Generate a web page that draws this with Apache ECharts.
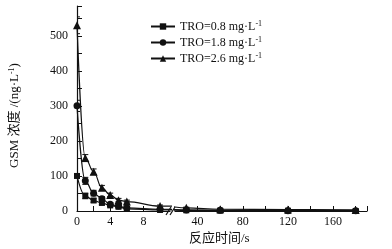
<!DOCTYPE html>
<html>
<head>
<meta charset="utf-8">
<script src="https://cdn.jsdelivr.net/npm/echarts@6/dist/echarts.min.js"></script>
<style>
  html, body { margin: 0; padding: 0; background: #fff; }
  #chart { width: 392px; height: 249px; }
</style>
</head>
<body>
<div id="chart"></div>
<script>
// reaction time (s) and GSM concentration (ng/L)
const times = [0, 1, 2, 3, 4, 5, 6, 10, 30, 60, 120, 180];
const tro08 = [100, 43, 30, 23, 16, 12, 6, 3, 2, 1, 1, 0];
const tro18 = [300, 86, 51, 35, 19, 14, 9, 5, 3, 2, 1, 1];
const tro26 = [530, 151, 112, 66, 46, 31, 27, 14, 9, 5, 4, 3];
const err08 = [6, 8, 5, 5, 4, 4, 3, 2, 1, 1, 1, 1];
const err18 = [16, 10, 8, 6, 5, 4, 3, 2, 2, 1, 1, 1];
const err26 = [24, 10, 8, 7, 5, 5, 4, 3, 2, 2, 1, 1];
const seriesNames = ['TRO=0.8 mg·L⁻¹', 'TRO=1.8 mg·L⁻¹', 'TRO=2.6 mg·L⁻¹'];
const yTicks = [0, 50, 100, 150, 200, 250, 300, 350, 400, 450, 500, 550, 585];
const yLabels = [0, 100, 200, 300, 400, 500];
const xLeftTicks = [0, 2, 4, 6, 8, 10];
const xLeftLabels = [0, 4, 8];
const xRightTicks = [40, 60, 80, 100, 120, 140, 160, 180, 190];
const xRightLabels = [40, 80, 120, 160];

const font = "'Liberation Serif', 'Noto Sans CJK SC', serif";
const ink = '#111';
const chart = echarts.init(document.getElementById('chart'));

const values = [tro08, tro18, tro26];
const errors = [err08, err18, err26];
const symbols = ['rect', 'circle', 'triangle'];
const symbolSizes = [6, 7, 8];
const supStyle = { fontSize: 8, fontFamily: font, color: ink, verticalAlign: 'top', lineHeight: 8 };

function errorBars(gridIdx, k) {
  return {
    name: 'err' + k + '_' + gridIdx,
    type: 'custom',
    xAxisIndex: gridIdx,
    yAxisIndex: gridIdx,
    clip: true,
    silent: true,
    data: times.map((t, i) => [t, values[k][i], errors[k][i]]),
    renderItem: (params, api) => {
      const x = api.value(0), v = api.value(1), e = api.value(2);
      const top = api.coord([x, v + e]);
      const bot = api.coord([x, v - e]);
      const style = { stroke: ink, lineWidth: 1 };
      return {
        type: 'group',
        children: [
          { type: 'line', shape: { x1: top[0], y1: top[1], x2: bot[0], y2: bot[1] }, style },
          { type: 'line', shape: { x1: top[0] - 3, y1: top[1], x2: top[0] + 3, y2: top[1] }, style },
          { type: 'line', shape: { x1: bot[0] - 3, y1: bot[1], x2: bot[0] + 3, y2: bot[1] }, style }
        ]
      };
    }
  };
}

const series = [];
[0, 1].forEach(g => {
  values.forEach((vals, k) => {
    series.push({
      name: seriesNames[k],
      type: 'line',
      xAxisIndex: g,
      yAxisIndex: g,
      data: times.map((t, i) => [t, vals[i]]),
      smooth: 0.4,
      smoothMonotone: 'x',
      symbol: symbols[k],
      symbolSize: symbolSizes[k],
      showAllSymbol: true,
      itemStyle: { color: ink },
      lineStyle: { color: ink, width: 1.2 }
    });
    series.push(errorBars(g, k));
  });
});

const baseX = {
  type: 'value',
  axisLine: { lineStyle: { color: ink, width: 1.2 } },
  axisTick: { inside: true, length: 5, lineStyle: { color: ink } },
  splitLine: { show: false },
  axisLabel: { color: ink, fontFamily: font, fontSize: 12, margin: 5 }
};

chart.setOption({
  animation: false,
  grid: [
    { left: 77, right: 222, top: 6, bottom: 38 },
    { left: 175, right: 25, top: 6, bottom: 38 }
  ],
  legend: {
    data: seriesNames,
    orient: 'vertical',
    left: 145,
    top: 15,
    itemWidth: 24,
    itemHeight: 8,
    itemGap: 3,
    textStyle: {
      color: ink, fontFamily: font, fontSize: 12, lineHeight: 13,
      rich: { sup: supStyle }
    },
    formatter: name => name.replace('⁻¹', '{sup|-1}')
  },
  xAxis: [
    Object.assign({}, baseX, {
      gridIndex: 0, min: 0, max: 11.2,
      axisTick: Object.assign({}, baseX.axisTick, { customValues: xLeftTicks }),
      axisLabel: Object.assign({}, baseX.axisLabel, { customValues: xLeftLabels })
    }),
    Object.assign({}, baseX, {
      gridIndex: 1, min: 20, max: 190,
      axisTick: Object.assign({}, baseX.axisTick, { customValues: xRightTicks }),
      axisLabel: Object.assign({}, baseX.axisLabel, { customValues: xRightLabels })
    })
  ],
  yAxis: [
    {
      type: 'value', gridIndex: 0, min: 0, max: 585,
      name: 'GSM 浓度 /(ng·L{sup|-1})',
      nameLocation: 'middle',
      nameGap: 56,
      nameTextStyle: {
        color: ink, fontFamily: font, fontSize: 13, padding: [0, 0, 0, -14],
        rich: { sup: supStyle }
      },
      axisLine: { show: true, lineStyle: { color: ink, width: 1.2 } },
      axisTick: { inside: true, length: 5, lineStyle: { color: ink }, customValues: yTicks },
      axisLabel: { color: ink, fontFamily: font, fontSize: 12, margin: 9, customValues: yLabels },
      splitLine: { show: false }
    },
    {
      type: 'value', gridIndex: 1, min: 0, max: 585, show: false
    }
  ],
  graphic: [
    {
      type: 'text', left: 189, top: 232,
      style: { text: '反应时间/s', fill: ink, font: "13px 'Liberation Serif', 'Noto Sans CJK SC', serif" }
    },
    {
      type: 'group',
      children: [
        { type: 'line', shape: { x1: 166, y1: 215, x2: 171, y2: 207 }, style: { stroke: ink, lineWidth: 1.2 } },
        { type: 'line', shape: { x1: 170, y1: 215, x2: 175, y2: 207 }, style: { stroke: ink, lineWidth: 1.2 } }
      ]
    }
  ],
  series
});
</script>
</body>
</html>
